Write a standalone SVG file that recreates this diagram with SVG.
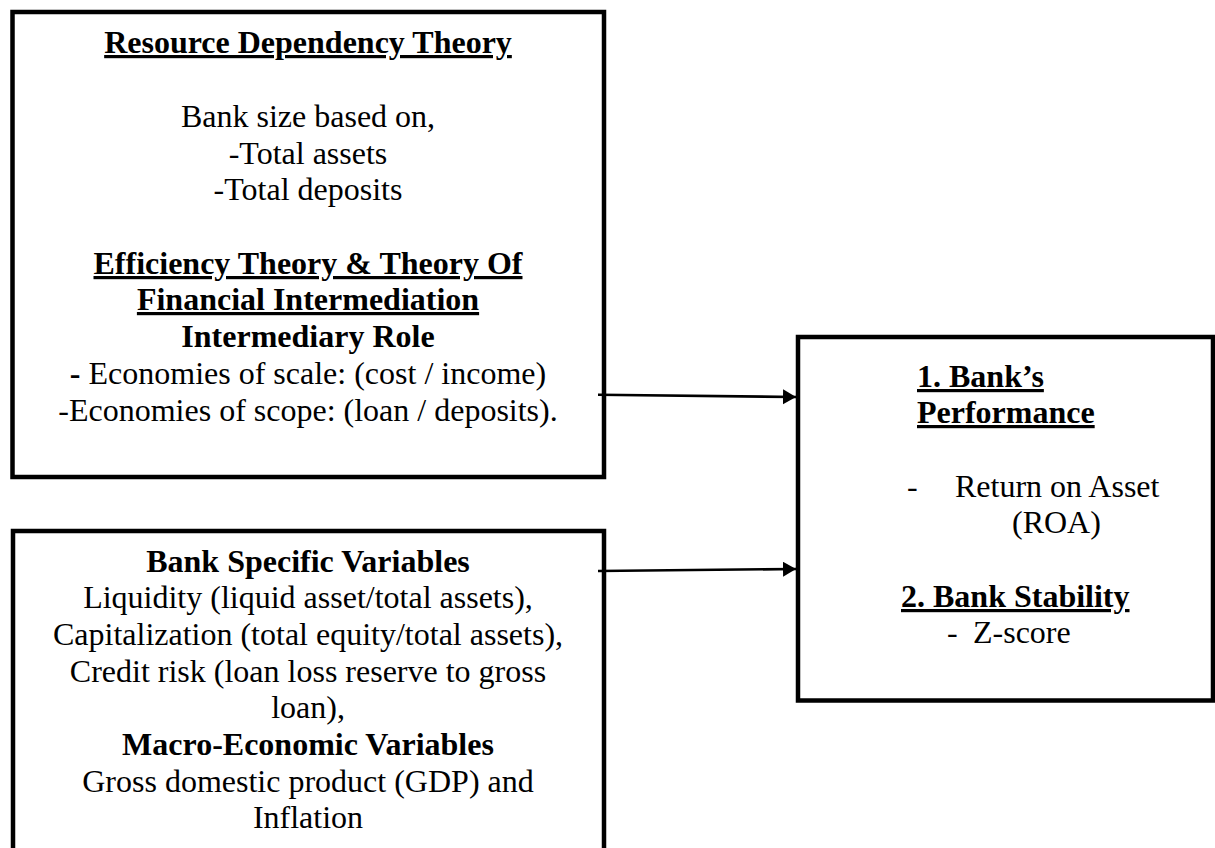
<svg xmlns="http://www.w3.org/2000/svg" width="1215" height="848" viewBox="0 0 1215 848">
<style>
.box{fill:#fff;stroke:#000;stroke-width:4.5}
text{font-family:"Liberation Serif","Times New Roman",serif;font-size:32px;fill:#000}
.c{text-anchor:middle}
.b{font-weight:bold}
.u{text-decoration:underline;text-decoration-thickness:3px}
.conn{stroke:#000;stroke-width:2.6;fill:none}
</style>
<defs>
<marker id="ah" markerUnits="userSpaceOnUse" markerWidth="14" markerHeight="16" refX="13" refY="7.5" orient="auto">
<path d="M0,0 L13,7.5 L0,15 Z" fill="#000"/>
</marker>
</defs>
<rect width="1215" height="848" fill="#fff"/>
<g id="node-theories">
<rect class="box" x="12.5" y="12" width="591.5" height="465"/>
<text class="c b u" x="308" y="53">Resource Dependency Theory</text>
<text class="c" x="308" y="127">Bank size based on,</text>
<text class="c" x="308" y="164">-Total assets</text>
<text class="c" x="308" y="200">-Total deposits</text>
<text class="c b u" x="308" y="274">Efficiency Theory &amp; Theory Of</text>
<text class="c b u" x="308" y="310">Financial Intermediation</text>
<text class="c b" x="308" y="347">Intermediary Role</text>
<text class="c" x="308" y="384"><tspan class="b">-</tspan> Economies of scale: (cost / income)</text>
<text class="c" x="308" y="421">-Economies of scope: (loan / deposits).</text>
</g>
<g id="node-variables">
<rect class="box" x="13" y="531" width="591" height="320"/>
<text class="c b" x="308" y="572">Bank Specific Variables</text>
<text class="c" x="308" y="608">Liquidity (liquid asset/total assets),</text>
<text class="c" x="308" y="645">Capitalization (total equity/total assets),</text>
<text class="c" x="308" y="682">Credit risk (loan loss reserve to gross</text>
<text class="c" x="308" y="718">loan),</text>
<text class="c b" x="308" y="755">Macro-Economic Variables</text>
<text class="c" x="308" y="792">Gross domestic product (GDP) and</text>
<text class="c" x="308" y="828">Inflation</text>
</g>
<g id="node-outcomes">
<rect class="box" x="798" y="337" width="415" height="363.5"/>
<text class="b u" x="917" y="387">1. Bank’s</text>
<text class="b u" x="917" y="423">Performance</text>
<text y="497"><tspan x="907">-</tspan><tspan x="955">Return on Asset</tspan></text>
<text x="1012" y="533">(ROA)</text>
<text class="b u" x="901" y="607">2. Bank Stability</text>
<text y="643"><tspan x="947">-</tspan><tspan x="973">Z-score</tspan></text>
</g>
<g id="connectors">
<line class="conn" x1="598" y1="394.7" x2="796" y2="397" marker-end="url(#ah)"/>
<line class="conn" x1="598" y1="571" x2="796" y2="569" marker-end="url(#ah)"/>
</g>
</svg>
